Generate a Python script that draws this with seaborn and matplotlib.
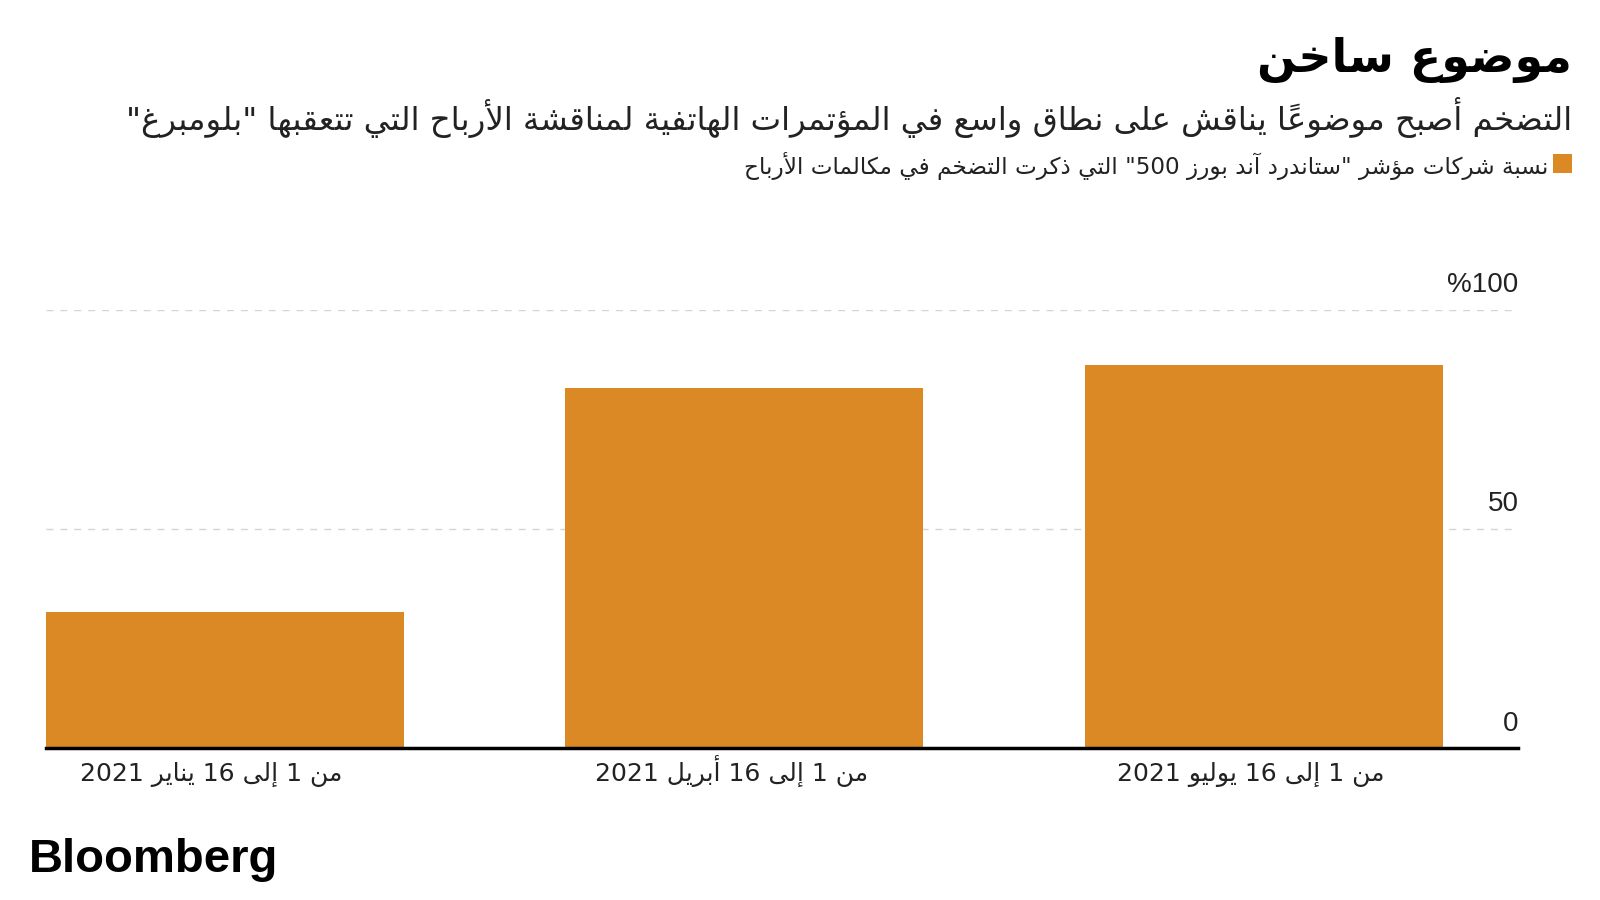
import matplotlib
matplotlib.use("Agg")
import matplotlib.pyplot as plt
import matplotlib.patches as mpatches
import matplotlib.transforms as mtransforms
import seaborn as sns
import pandas as pd

# ---------------- data ----------------
title = "موضوع ساخن"
subtitle = "التضخم أصبح موضوعاً يناقش على نطاق واسع في المؤتمرات الهاتفية لمناقشة الأرباح التي تتعقبها \"بلومبرغ\""
legend_label = "نسبة شركات مؤشر \"ستاندرد آند بورز 500\" التي ذكرت التضخم في مكالمات الأرباح"
categories = ["من 1 إلى 16 يناير 2021", "من 1 إلى 16 أبريل 2021", "من 1 إلى 16 يوليو 2021"]
values = [31, 82, 87.3]
ytick_values = [0, 50, 100]
ytick_labels = ["0", "50", "%100"]
source = "Bloomberg"

BAR_COLOR = "#DA8924"

# ---------------- minimal Arabic shaping + visual ordering ----------------
RIGHT = {'آ': 0xFE81, 'أ': 0xFE83, 'ؤ': 0xFE85, 'إ': 0xFE87, 'ا': 0xFE8D, 'ة': 0xFE93,
         'د': 0xFEA9, 'ذ': 0xFEAB, 'ر': 0xFEAD, 'ز': 0xFEAF, 'و': 0xFEED, 'ى': 0xFEEF}
DUAL = {'ئ': 0xFE89, 'ب': 0xFE8F, 'ت': 0xFE95, 'ث': 0xFE99, 'ج': 0xFE9D, 'ح': 0xFEA1,
        'خ': 0xFEA5, 'س': 0xFEB1, 'ش': 0xFEB5, 'ص': 0xFEB9, 'ض': 0xFEBD, 'ط': 0xFEC1,
        'ظ': 0xFEC5, 'ع': 0xFEC9, 'غ': 0xFECD, 'ف': 0xFED1, 'ق': 0xFED5, 'ك': 0xFED9,
        'ل': 0xFEDD, 'م': 0xFEE1, 'ن': 0xFEE5, 'ه': 0xFEE9, 'ي': 0xFEF1}
NONJ = {'ء': 0xFE80}
LAMALEF = {'آ': 0xFEF5, 'أ': 0xFEF7, 'إ': 0xFEF9, 'ا': 0xFEFB}


def is_mark(c):
    return 0x064B <= ord(c) <= 0x0652


def joining(c):
    return c in RIGHT or c in DUAL


def shape_ar(s):
    items = []
    for c in s:
        if is_mark(c) and items:
            items[-1][1] += c
        else:
            items.append([c, ""])
    out = []
    prev_dual = False
    i = 0
    while i < len(items):
        c, marks = items[i]
        nxt = items[i + 1][0] if i + 1 < len(items) else None
        if c == 'ل' and nxt in LAMALEF:
            g = chr(LAMALEF[nxt] + (1 if prev_dual else 0))
            out.append((g + marks + items[i + 1][1], False))
            prev_dual = False
            i += 2
            continue
        nc = nxt is not None and joining(nxt)
        if c in DUAL:
            b = DUAL[c]
            if prev_dual and nc:
                g = b + 3
            elif prev_dual:
                g = b + 1
            elif nc:
                g = b + 2
            else:
                g = b
            out.append((chr(g) + marks, False))
            prev_dual = True
        elif c in RIGHT:
            out.append((chr(RIGHT[c] + (1 if prev_dual else 0)) + marks, False))
            prev_dual = False
        elif c in NONJ:
            out.append((chr(NONJ[c]) + marks, False))
            prev_dual = False
        else:
            out.append((c + marks, c.isascii() and c.isalnum()))
            prev_dual = False
        i += 1
    # visual reorder: reverse, keeping LTR (digit/latin) runs in order
    runs = []
    for cl, ltr in out:
        if runs and runs[-1][1] == ltr:
            runs[-1][0].append(cl)
        else:
            runs.append([[cl], ltr])
    res = []
    for clusters, ltr in reversed(runs):
        res.extend(clusters if ltr else reversed(clusters))
    return "".join(res)


# ---------------- figure ----------------
sns.set_theme(style="white")
plt.rcParams['font.family'] = ['DejaVu Sans']

fig = plt.figure(figsize=(16, 9), dpi=100)
ax = fig.add_axes([0.029, 0.169, 0.920, 0.487])

df = pd.DataFrame({"period": categories, "share": values})
sns.barplot(data=df, x="period", y="share", order=categories, color=BAR_COLOR,
            saturation=1, width=0.69, ax=ax)
for p in ax.patches:
    p.set_edgecolor("none")

ax.set_xlim(-0.343, 2.490)
ax.set_ylim(0, 100)
ax.set_xlabel("")
ax.set_ylabel("")
ax.set_yticks([])
ax.set_xticks(range(len(categories)))
ax.set_xticklabels([])
ax.tick_params(axis="x", length=0)
for s in ["top", "right", "left"]:
    ax.spines[s].set_visible(False)
ax.spines["bottom"].set_color("black")
ax.spines["bottom"].set_linewidth(2.5)
ax.spines["bottom"].set_zorder(5)

xtrans = mtransforms.blended_transform_factory(ax.transData, ax.transAxes)
for i, c in enumerate(categories):
    ax.text(i - 0.025, -0.076, shape_ar(c), transform=xtrans, ha="center", va="baseline",
            fontsize=18, color="#222222", family=['DejaVu Sans'])

# gridlines and right-side labels
ytrans = mtransforms.blended_transform_factory(ax.transAxes, ax.transData)
for v, lab in zip(ytick_values, ytick_labels):
    if v > 0:
        ax.axhline(v, color="#d4d4d4", lw=1, ls=(0, (5, 5)), zorder=0.5)
    ax.text(1.0, v + 2.6, lab, transform=ytrans, ha="right", va="bottom", fontsize=20,
            color="#222222", family=['Liberation Sans', 'DejaVu Sans'])

# titles
fig.text(0.9825, 0.933, shape_ar(title), ha="right", va="center", fontsize=33,
         fontweight="bold", color="black", family=['DejaVu Sans'])
fig.text(0.9825, 0.870, shape_ar(subtitle), ha="right", va="center", fontsize=23.3,
         color="#222222", family=['DejaVu Sans'])

# legend
fig.patches.append(mpatches.Rectangle((0.9705, 0.808), 0.0118, 0.021, transform=fig.transFigure,
                                      facecolor=BAR_COLOR, edgecolor="none"))
fig.text(0.9675, 0.816, shape_ar(legend_label), ha="right", va="center", fontsize=16.7,
         color="#222222", family=['DejaVu Sans'])

# source logo
fig.text(0.018, 0.045, source, ha="left", va="center", fontsize=34, fontweight="bold",
         color="black", family=['Liberation Sans', 'DejaVu Sans'])

fig.savefig("out.png", dpi=100, facecolor="white")
